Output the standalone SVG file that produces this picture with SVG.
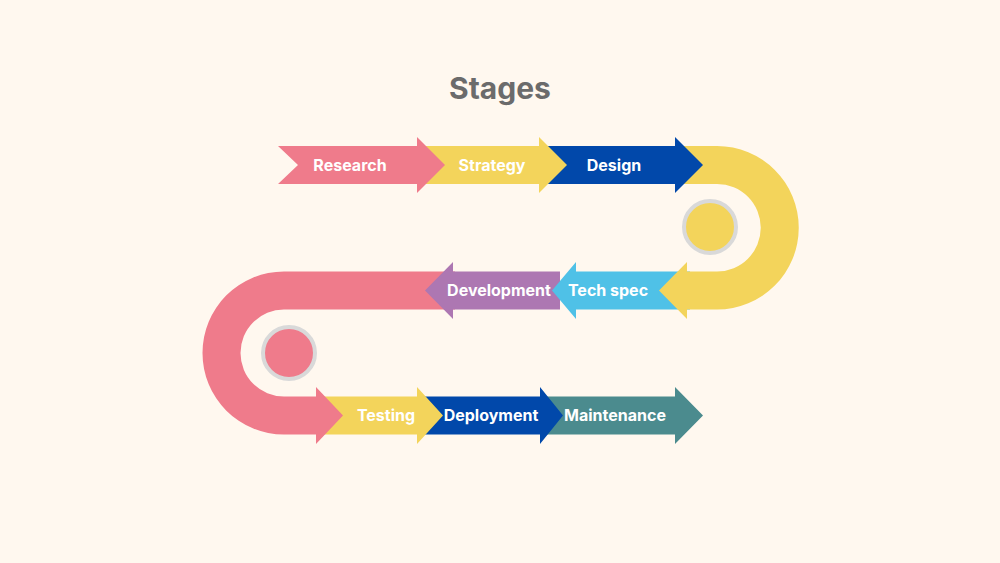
<svg xmlns="http://www.w3.org/2000/svg" width="1000" height="563" viewBox="0 0 1000 563">
<style>
.lbl{font-family:Inter,"Liberation Sans",sans-serif;font-weight:700;font-size:16px;fill:#ffffff;text-anchor:middle;dominant-baseline:central}
.title{font-family:Inter,"Liberation Sans",sans-serif;font-weight:700;font-size:30px;fill:#6b6b6b;text-anchor:middle;dominant-baseline:central}
.ring{stroke:#d9d9d9;stroke-width:4}
</style>
<rect width="1000" height="563" fill="#fff8ef"/>
<text class="title" x="500" y="88">Stages</text>
<g id="maintenance">
  <polygon points="542,396.5 675,396.5 675,387 703,415.5 675,444 675,434.5 542,434.5" fill="#4b8b8e"/>
  <text class="lbl" x="615" y="415">Maintenance</text>
</g>
<g id="deployment">
  <polygon points="420,396.5 540,396.5 540,387 563,415.5 540,444 540,434.5 420,434.5" fill="#0148aa"/>
  <text class="lbl" x="491" y="415">Deployment</text>
</g>
<g id="testing">
  <polygon points="320,396.5 417,396.5 417,387 443,415.5 417,444 417,434.5 320,434.5" fill="#f3d45b"/>
  <text class="lbl" x="386" y="415">Testing</text>
</g>
<g id="connectors">
  <path id="pink-turn" d="M455 271.5 L284 271.5 A81.5 81.5 0 0 0 284 434.5 L316 434.5 L316 444 L343 415.5 L316 387 L316 396.5 L284 396.5 A43.5 43.5 0 0 1 284 309.5 L455 309.5 Z" fill="#ef7b8b"/>
  <circle id="pink-dot" class="ring" cx="289" cy="353" r="26" fill="#ef7b8b"/>
</g>
<g id="development">
  <polygon points="560,271.5 453,271.5 453,262 425,290.5 453,319 453,309.5 560,309.5" fill="#ad77b2"/>
  <text class="lbl" x="499" y="290">Development</text>
</g>
<g id="techspec">
  <polygon points="690,271.5 576,271.5 576,262 552,290.5 576,319 576,309.5 690,309.5" fill="#4fc1e7"/>
  <text class="lbl" x="608" y="290">Tech spec</text>
</g>
<g id="yellow-turn">
  <path d="M640 146 L717 146 A81.75 81.75 0 0 1 717 309.5 L687 309.5 L687 319 L659 290.5 L687 262 L687 271.5 L717 271.5 A43.75 43.75 0 0 0 717 184 L640 184 Z" fill="#f3d45b"/>
  <circle class="ring" cx="710" cy="227" r="26" fill="#f3d45b"/>
</g>
<g id="design">
  <polygon points="545,146 675,146 675,137 703,165 675,193 675,184 545,184" fill="#0148aa"/>
  <text class="lbl" x="614" y="164.5">Design</text>
</g>
<g id="strategy">
  <polygon points="420,146 539,146 539,137 567,165 539,193 539,184 420,184" fill="#f3d45b"/>
  <text class="lbl" x="492" y="164.5">Strategy</text>
</g>
<g id="research">
  <polygon points="278,146 417,146 417,137 445,165 417,193 417,184 278,184 298,165" fill="#ef7b8b"/>
  <text class="lbl" x="350" y="164.5">Research</text>
</g>
</svg>
